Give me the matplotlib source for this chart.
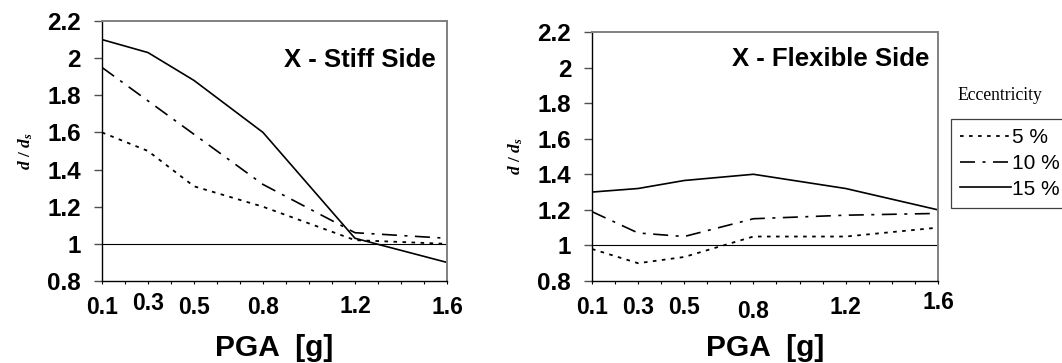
import numpy as np
import matplotlib
matplotlib.use("Agg")
import matplotlib.pyplot as plt

plt.rcParams['font.family'] = ['Liberation Sans', 'DejaVu Sans']
plt.rcParams['mathtext.fontset'] = 'custom'
plt.rcParams['mathtext.it'] = 'Liberation Serif:italic:bold'
plt.rcParams['mathtext.rm'] = 'Liberation Serif:bold'

# PGA levels and normalised displacement d/ds
pga = [0.1, 0.3, 0.5, 0.8, 1.2, 1.6]

stiff_5 = [1.60, 1.50, 1.31, 1.20, 1.02, 1.00]
stiff_10 = [1.95, 1.77, 1.59, 1.32, 1.06, 1.03]
stiff_15 = [2.10, 2.03, 1.88, 1.60, 1.03, 0.90]

flex_5 = [0.98, 0.90, 0.935, 1.05, 1.05, 1.10]
flex_10 = [1.19, 1.07, 1.05, 1.15, 1.17, 1.18]
flex_15 = [1.30, 1.32, 1.365, 1.40, 1.32, 1.20]

ecc_labels = ['5 %', '10 %', '15 %']
y_ticks = [0.8, 1.0, 1.2, 1.4, 1.6, 1.8, 2.0, 2.2]

styles = [dict(ls=(0, (2, 3)), lw=1.3),
          dict(ls=(0, (9, 4.5, 1.8, 4.5)), lw=1.2),
          dict(ls='-', lw=1.2)]

# small vertical shifts of the x labels (points)
shift_left = [0, 3, 0, 0, 1, 0]
shift_right = [0, 0, 0, -3, 0, 4]

fig = plt.figure(figsize=(10.62, 3.63), dpi=100)
ax1 = fig.add_axes([0.0960, 0.2259, 0.3249, 0.7163])
ax2 = fig.add_axes([0.5574, 0.2259, 0.3258, 0.6860])


def setup(ax, title, tx, ty, shifts):
    ax.set_xlim(0.1, 1.6)
    ax.set_ylim(0.8, 2.2)
    for s in ['top', 'right']:
        ax.spines[s].set_color('#808080')
        ax.spines[s].set_linewidth(1.4)
    for s in ['left', 'bottom']:
        ax.spines[s].set_color('black')
        ax.spines[s].set_linewidth(1.0)
    ax.axhline(1.0, color='black', lw=0.8)
    ax.set_yticks(y_ticks)
    ax.set_yticklabels(['%g' % v for v in y_ticks], fontsize=17.5, fontweight='bold')
    ax.tick_params(axis='y', direction='out', length=6, width=1, color='#505050', pad=9)
    ax.set_xticks(np.round(np.arange(0.1, 1.65, 0.1), 2))
    ax.set_xticklabels([])
    ax.tick_params(axis='x', direction='out', length=2.5, width=0.8, color='black')
    for x, dy in zip(pga, shifts):
        ax.annotate('%g' % x, xy=(x, 0), xycoords=('data', 'axes fraction'),
                    xytext=(0, -11 + dy), textcoords='offset points',
                    ha='center', va='top', fontsize=16.5, fontweight='bold')
    ax.text(tx, ty, title, transform=ax.transAxes, ha='right', va='center',
            fontsize=18.5, fontweight='bold')
    ax.set_xlabel('PGA  [g]', fontsize=21.5, fontweight='bold', labelpad=32)
    ax.set_ylabel(r'$d\ /\ d_s$', fontsize=12.5, labelpad=9)


setup(ax1, 'X - Stiff Side', 0.968, 0.85, shift_left)
setup(ax2, 'X - Flexible Side', 0.974, 0.89, shift_right)

handles = []
for series, st in zip([stiff_5, stiff_10, stiff_15], styles):
    h, = ax1.plot(pga, series, color='black', **st)
    handles.append(h)
for series, st in zip([flex_5, flex_10, flex_15], styles):
    ax2.plot(pga, series, color='black', **st)

fig.text(957 / 1062, 1 - 96 / 363, 'Eccentricity', fontsize=12.7,
         family='Liberation Serif', ha='left', va='center')
leg = fig.legend(handles, ecc_labels, loc='upper left',
                 bbox_to_anchor=(951 / 1062, 1 - 119 / 363),
                 fontsize=15, handlelength=2.45, handletextpad=0.05,
                 labelspacing=0.32, borderpad=0.45, borderaxespad=0,
                 fancybox=False, framealpha=1, edgecolor='#404040')
leg.get_frame().set_linewidth(0.9)

fig.savefig('out.png', dpi=100)
